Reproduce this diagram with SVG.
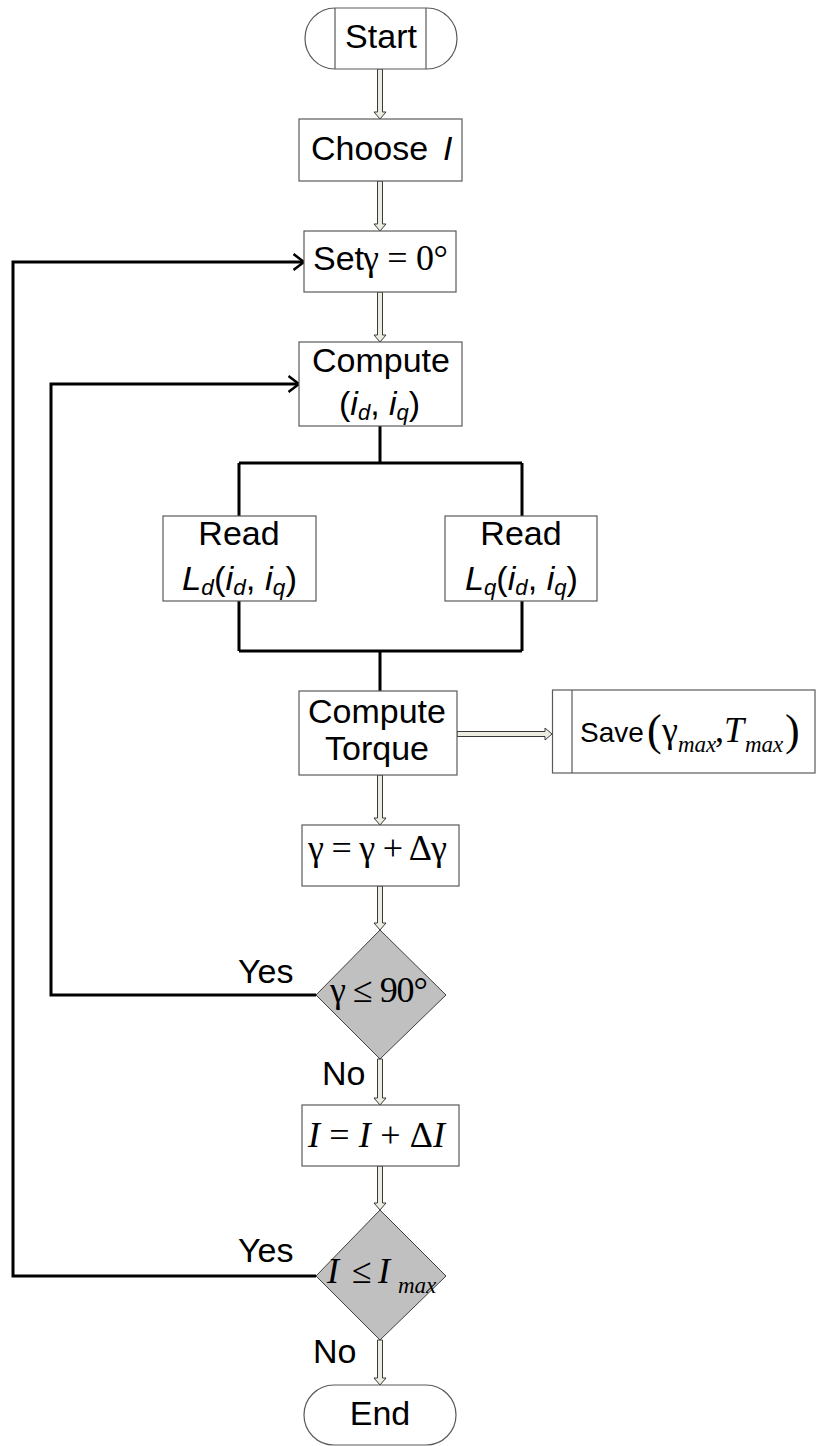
<svg xmlns="http://www.w3.org/2000/svg" width="816" height="1446" viewBox="0 0 816 1446">
<style>
.box{fill:#fff;stroke:#5a5a5a;stroke-width:1.2}
.dia{fill:#c0c0c0;stroke:#404040;stroke-width:1}
.dbl{fill:#ecece0;stroke:#3a3a3a;stroke-width:1}
.ln{fill:none;stroke:#000;stroke-width:3}
.a{font-family:"Liberation Sans",Arial,sans-serif;font-size:34px;fill:#000}
.t{font-family:"Liberation Serif","Times New Roman",serif;font-size:36px;fill:#000}
.i{font-style:italic}
.sub{font-size:22px}
.ts{font-style:italic;font-size:23px}
</style>
<defs>
<marker id="chev" viewBox="0 0 13 18" refX="11.5" refY="9" markerWidth="13" markerHeight="18" markerUnits="userSpaceOnUse" orient="auto">
<path d="M1,1 L11.5,9 L1,17" fill="none" stroke="#000" stroke-width="2.5"/>
</marker>
</defs>

<g id="connectors">
<polygon class="dbl" points="377.5,69 382.5,69 382.5,112 386,112 380,119 374,112 377.5,112"/>
<polygon class="dbl" points="377.5,181 382.5,181 382.5,224 386,224 380,231 374,224 377.5,224"/>
<polygon class="dbl" points="377.5,292 382.5,292 382.5,335 386,335 380,342 374,335 377.5,335"/>
<polygon class="dbl" points="377.5,775 382.5,775 382.5,818 386,818 380,825 374,818 377.5,818"/>
<polygon class="dbl" points="377.5,886 382.5,886 382.5,923 386,923 380,930 374,923 377.5,923"/>
<polygon class="dbl" points="377.5,1059 382.5,1059 382.5,1098 386,1098 380,1105 374,1098 377.5,1098"/>
<polygon class="dbl" points="377.5,1166 382.5,1166 382.5,1203 386,1203 380,1210 374,1203 377.5,1203"/>
<polygon class="dbl" points="377.5,1340 382.5,1340 382.5,1378 386,1378 380,1385 374,1378 377.5,1378"/>
<polygon class="dbl" points="457,731.5 545,731.5 545,728 552,734 545,740 545,736.5 457,736.5"/>
<path class="ln" d="M380,426 V463 M239,463 H522 M239,463 V516 M522,463 V516"/>
<path class="ln" d="M239,601 V651 M522,601 V651 M239,651 H522 M380,651 V691"/>
<path class="ln" d="M316,995 H51 V384 H299" marker-end="url(#chev)"/>
<path class="ln" d="M316,1276 H13 V262 H304" marker-end="url(#chev)"/>
</g>

<g id="start">
<rect class="box" x="305" y="8" width="152" height="61" rx="30" ry="30.5"/>
<line class="box" x1="335" y1="8" x2="335" y2="69"/>
<line class="box" x1="426" y1="8" x2="426" y2="69"/>
<text class="a" x="381" y="48" text-anchor="middle">Start</text>
</g>

<g id="choose">
<rect class="box" x="299" y="119" width="163" height="62"/>
<text class="a" x="311" y="160">Choose</text>
<text class="a i" x="443" y="160">I</text>
</g>

<g id="set">
<rect class="box" x="304" y="231" width="152" height="61"/>
<text class="a" x="313" y="270">Set</text>
<text class="t" x="363" y="270" textLength="85" lengthAdjust="spacing">γ = 0°</text>
</g>

<g id="compute-id-iq">
<rect class="box" x="299" y="342" width="163" height="84"/>
<text class="a" x="381" y="372" text-anchor="middle">Compute</text>
<text class="a" x="339" y="415">(<tspan class="i">i</tspan><tspan class="i sub" dy="5">d</tspan><tspan dy="-5">, </tspan><tspan class="i">i</tspan><tspan class="i sub" dy="5">q</tspan><tspan dy="-5">)</tspan></text>
</g>

<g id="read-ld">
<rect class="box" x="163" y="516" width="153" height="85"/>
<text class="a" x="239" y="545" text-anchor="middle">Read</text>
<text class="a" x="182" y="590" textLength="115" lengthAdjust="spacingAndGlyphs"><tspan class="i">L</tspan><tspan class="i sub" dy="5">d</tspan><tspan dy="-5">(</tspan><tspan class="i">i</tspan><tspan class="i sub" dy="5">d</tspan><tspan dy="-5">, </tspan><tspan class="i">i</tspan><tspan class="i sub" dy="5">q</tspan><tspan dy="-5">)</tspan></text>
</g>

<g id="read-lq">
<rect class="box" x="445" y="516" width="152" height="85"/>
<text class="a" x="521" y="545" text-anchor="middle">Read</text>
<text class="a" x="465" y="590" textLength="113" lengthAdjust="spacingAndGlyphs"><tspan class="i">L</tspan><tspan class="i sub" dy="5">q</tspan><tspan dy="-5">(</tspan><tspan class="i">i</tspan><tspan class="i sub" dy="5">d</tspan><tspan dy="-5">, </tspan><tspan class="i">i</tspan><tspan class="i sub" dy="5">q</tspan><tspan dy="-5">)</tspan></text>
</g>

<g id="compute-torque">
<rect class="box" x="299" y="691" width="158" height="84"/>
<text class="a" x="377" y="723" text-anchor="middle">Compute</text>
<text class="a" x="377" y="760" text-anchor="middle">Torque</text>
</g>

<g id="save">
<rect class="box" x="552.5" y="690" width="262.5" height="83"/>
<line class="box" x1="572" y1="690" x2="572" y2="773"/>
<text class="a" x="580" y="742" style="font-size:28px">Save</text>
<text class="t" y="742"><tspan x="647" font-size="44" dy="3">(</tspan><tspan x="662" dy="-3">γ</tspan><tspan class="ts" x="678" dy="10">max</tspan><tspan x="715" dy="-10">,</tspan><tspan class="i" x="724">T</tspan><tspan class="ts" x="745" dy="10">max</tspan><tspan x="785" font-size="44" dy="-7">)</tspan></text>
</g>

<g id="gamma-inc">
<rect class="box" x="302" y="825" width="157" height="61"/>
<text class="t" x="308" y="860" textLength="139" lengthAdjust="spacing">γ = γ + Δγ</text>
</g>

<g id="gamma-check">
<polygon class="dia" points="380,930 446,995 380,1059 316,995"/>
<text class="t" x="330" y="1002" textLength="98" lengthAdjust="spacing">γ ≤ 90°</text>
</g>

<g id="i-inc">
<rect class="box" x="302" y="1105" width="157" height="61"/>
<text class="t" x="308" y="1147" textLength="137" lengthAdjust="spacing"><tspan class="i">I</tspan> = <tspan class="i">I</tspan> + Δ<tspan class="i">I</tspan></text>
</g>

<g id="i-check">
<polygon class="dia" points="380,1210 446,1276 380,1340 316,1276"/>
<text class="t" y="1283"><tspan class="i" x="327">I</tspan><tspan x="352">≤</tspan><tspan class="i" x="378">I</tspan><tspan class="ts" x="398" dy="10">max</tspan></text>
</g>

<g id="labels">
<text class="a" x="238" y="983">Yes</text>
<text class="a" x="322" y="1085">No</text>
<text class="a" x="238" y="1262">Yes</text>
<text class="a" x="313" y="1363">No</text>
</g>

<g id="end">
<rect class="box" x="304" y="1385" width="152" height="60" rx="30" ry="30"/>
<text class="a" x="380" y="1425" text-anchor="middle">End</text>
</g>
</svg>
